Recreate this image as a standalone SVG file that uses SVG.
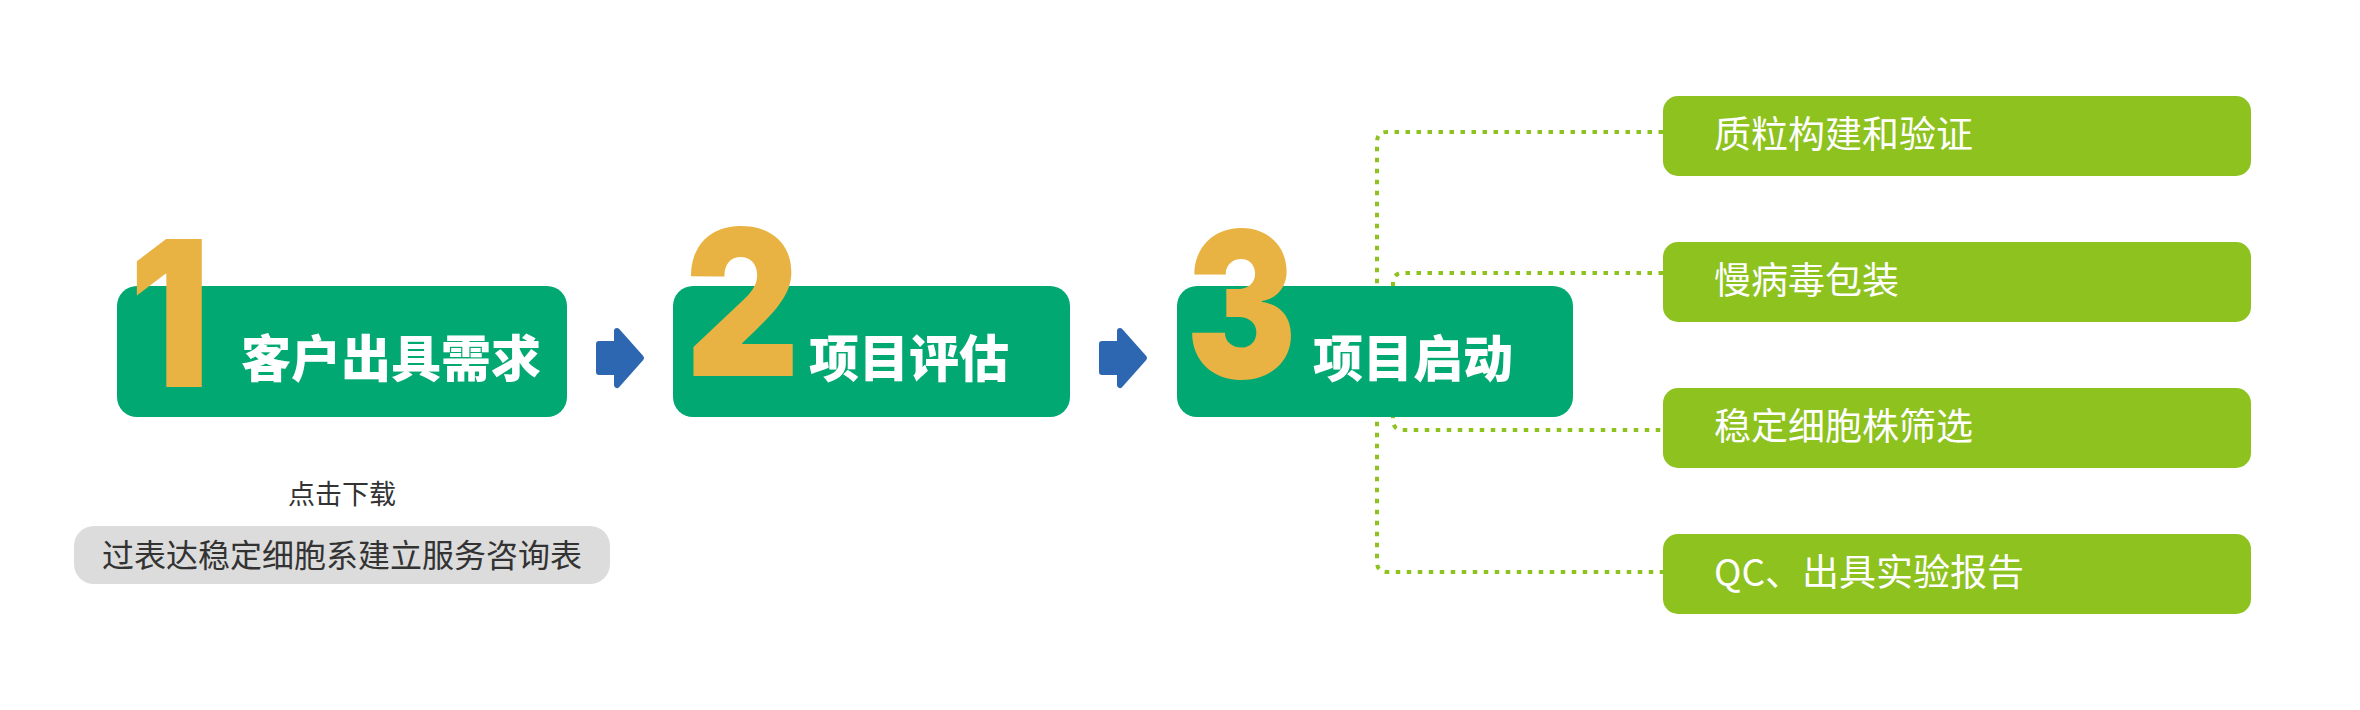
<svg xmlns="http://www.w3.org/2000/svg" width="2360" height="710" viewBox="0 0 2360 710">
<style>
.step{fill:#02a872}
.num{fill:#e9b343;font-family:"Inter","Roboto","Liberation Sans",sans-serif;font-weight:900;font-size:204px}
.bold{fill:#ffffff;font-family:"Noto Sans CJK SC",sans-serif;font-weight:900;font-size:50px}
.sub{fill:#8dc21f}
.subt{fill:#ffffff;font-family:"Noto Sans CJK SC",sans-serif;font-weight:400;font-size:37px}
.arrow{fill:#2e67b1;stroke:#2e67b1;stroke-width:6;stroke-linejoin:round}
.dot{fill:none;stroke:#8dc21f;stroke-width:4;stroke-dasharray:4.5 6.5}
.gray{fill:#333333;font-family:"Noto Sans CJK SC",sans-serif;font-weight:400}
</style>
<rect width="2360" height="710" fill="#ffffff"/>
<g id="connectors">
<path class="dot" d="M1663 132 H1387 Q1377 132 1377 142 V562 Q1377 572 1387 572 H1663"/>
<path class="dot" d="M1663 273 H1403 Q1393 273 1393 283 V420 Q1393 430 1403 430 H1663"/>
<path class="arrow" d="M599 344 H617 V331 L641 358 L617 385 V372 H599 Z"/>
<path class="arrow" d="M1102 344 H1120 V331 L1144 358 L1120 385 V372 H1102 Z"/>
</g>
<g id="step1">
<rect class="step" x="117" y="286" width="450" height="131" rx="20"/>
<text class="num" transform="translate(129,387) scale(0.88,1)">1</text>
<text class="bold" x="241" y="377">客户出具需求</text>
</g>
<g id="step2">
<rect class="step" x="673" y="286" width="397" height="131" rx="20"/>
<text class="num" transform="translate(685,376) scale(0.87,1)">2</text>
<text class="bold" x="809" y="377">项目评估</text>
</g>
<g id="step3">
<rect class="step" x="1177" y="286" width="396" height="131" rx="20"/>
<text class="num" transform="translate(1186,378) scale(0.81,1)">3</text>
<text class="bold" x="1313" y="377">项目启动</text>
</g>
<g id="sub1">
<rect class="sub" x="1663" y="96" width="588" height="80" rx="15"/>
<text class="subt" x="1714" y="148">质粒构建和验证</text>
</g>
<g id="sub2">
<rect class="sub" x="1663" y="242" width="588" height="80" rx="15"/>
<text class="subt" x="1714" y="294">慢病毒包装</text>
</g>
<g id="sub3">
<rect class="sub" x="1663" y="388" width="588" height="80" rx="15"/>
<text class="subt" x="1714" y="440">稳定细胞株筛选</text>
</g>
<g id="sub4">
<rect class="sub" x="1663" y="534" width="588" height="80" rx="15"/>
<text class="subt" x="1714" y="586">QC、出具实验报告</text>
</g>
<g id="download">
<text class="gray" x="342" y="504" font-size="27" text-anchor="middle">点击下载</text>
<rect x="74" y="526" width="536" height="58" rx="20" fill="#dcdcdc"/>
<text class="gray" x="342" y="567" font-size="32" text-anchor="middle">过表达稳定细胞系建立服务咨询表</text>
</g>
</svg>
